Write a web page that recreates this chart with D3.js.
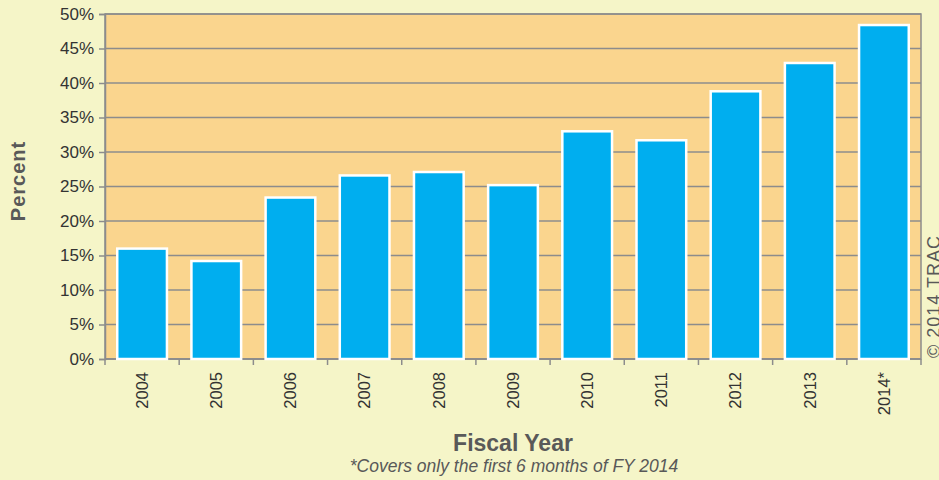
<!DOCTYPE html>
<html>
<head>
<meta charset="utf-8">
<script src="https://cdn.jsdelivr.net/npm/d3@7"></script>
<style>
  body { margin: 0; background: #f5f5c8; }
  svg { display: block; font-family: Arial, "Liberation Sans", sans-serif; }
</style>
</head>
<body>
<div id="chart-container"></div>
<script>
const years = ['2004', '2005', '2006', '2007', '2008', '2009', '2010', '2011', '2012', '2013', '2014*']
const percent = [16.0, 14.2, 23.4, 26.6, 27.1, 25.2, 33.0, 31.7, 38.8, 42.9, 48.4]
const yTicks = [0, 5, 10, 15, 20, 25, 30, 35, 40, 45, 50]

function draw () {
  const width = 939
  const height = 480
  const marginTop = 14
  const marginRight = 18
  const marginBottom = 121
  const marginLeft = 105

  const svg = d3.select('#chart-container')
    .append('svg')
    .attr('width', width)
    .attr('height', height)
    .style('background-color', '#f5f5c8')

  const xScale = d3.scaleBand()
    .domain(years)
    .range([marginLeft, width - marginRight])
    .paddingInner(0.33)
    .paddingOuter(0.165)

  const yScale = d3.scaleLinear()
    .domain([0, 50])
    .range([height - marginBottom, marginTop])

  // plot background
  svg.append('rect')
    .attr('x', marginLeft)
    .attr('y', marginTop)
    .attr('width', width - marginRight - marginLeft)
    .attr('height', height - marginBottom - marginTop)
    .attr('fill', '#fad58e')
    .attr('stroke', '#8c8c8c')
    .attr('stroke-width', 1.5)

  // gridlines
  svg.append('g')
    .selectAll('line')
    .data(yTicks)
    .enter()
    .append('line')
    .attr('x1', marginLeft)
    .attr('x2', width - marginRight)
    .attr('y1', d => yScale(d))
    .attr('y2', d => yScale(d))
    .attr('stroke', '#8c8c8c')
    .attr('stroke-width', 1.5)

  const yAxis = d3.axisLeft(yScale)
    .tickValues(yTicks)
    .tickFormat(d => d + '%')
    .tickSize(6)
    .tickPadding(5)

  const gy = svg.append('g')
    .attr('transform', 'translate(' + marginLeft + ',0)')
    .call(yAxis)
  gy.select('.domain').attr('stroke', '#8c8c8c').attr('stroke-width', 1.5)
  gy.selectAll('.tick line').attr('stroke', '#8c8c8c').attr('stroke-width', 1.5)
  gy.selectAll('.tick text').attr('font-size', 17).attr('fill', '#333')

  // x axis: ticks at band boundaries
  const step = xScale.step()
  const bounds = years.map(d => xScale(d) - xScale.paddingInner() * step / 2).concat([width - marginRight])
  svg.append('g')
    .selectAll('line')
    .data(bounds)
    .enter()
    .append('line')
    .attr('x1', d => d)
    .attr('x2', d => d)
    .attr('y1', height - marginBottom)
    .attr('y2', height - marginBottom + 6)
    .attr('stroke', '#8c8c8c')
    .attr('stroke-width', 1.5)
  svg.append('line')
    .attr('x1', marginLeft)
    .attr('x2', width - marginRight)
    .attr('y1', height - marginBottom)
    .attr('y2', height - marginBottom)
    .attr('stroke', '#8c8c8c')
    .attr('stroke-width', 1.5)

  svg.append('g')
    .selectAll('text')
    .data(years)
    .enter()
    .append('text')
    .attr('transform', d => 'translate(' + (xScale(d) + xScale.bandwidth() / 2) + ',' + (height - marginBottom + 13) + ') rotate(-90)')
    .attr('text-anchor', 'end')
    .attr('dy', '0.35em')
    .attr('font-size', 16.5)
    .attr('fill', '#333')
    .text(d => d)

  // bars
  svg.append('g')
    .selectAll('rect')
    .data(years)
    .enter()
    .append('rect')
    .attr('x', d => xScale(d))
    .attr('y', (d, i) => yScale(percent[i]))
    .attr('width', xScale.bandwidth())
    .attr('height', (d, i) => height - marginBottom - yScale(percent[i]))
    .attr('fill', '#00aeef')
    .attr('stroke', '#ffffff')
    .attr('stroke-width', 2.5)

  // axis titles
  svg.append('text')
    .attr('transform', 'translate(25,181) rotate(-90)')
    .attr('text-anchor', 'middle')
    .attr('font-size', 20)
    .attr('font-weight', 'bold')
    .attr('letter-spacing', 1)
    .attr('fill', '#595959')
    .text('Percent')

  svg.append('text')
    .attr('x', 513)
    .attr('y', 451)
    .attr('text-anchor', 'middle')
    .attr('font-size', 23)
    .attr('font-weight', 'bold')
    .attr('fill', '#595959')
    .text('Fiscal Year')

  svg.append('text')
    .attr('x', 514)
    .attr('y', 472)
    .attr('text-anchor', 'middle')
    .attr('font-size', 17.5)
    .attr('font-style', 'italic')
    .attr('fill', '#595959')
    .text('*Covers only the first 6 months of FY 2014')

  svg.append('text')
    .attr('transform', 'translate(940,358) rotate(-90)')
    .attr('text-anchor', 'start')
    .attr('font-size', 18)
    .attr('letter-spacing', 1)
    .attr('fill', '#595959')
    .text('© 2014 TRAC')
}
draw()
</script>
</body>
</html>
